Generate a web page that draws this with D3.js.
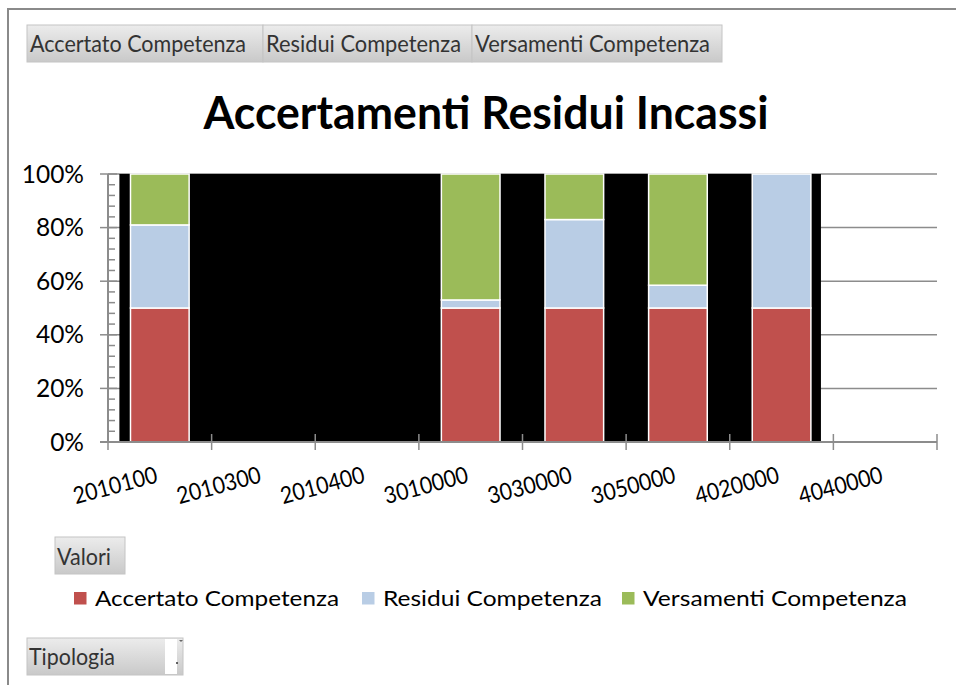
<!DOCTYPE html>
<html>
<head>
<meta charset="utf-8">
<script src="https://cdn.jsdelivr.net/npm/d3@7"></script>
<style>
  body { margin: 0; background: #fff; }
  text { font-family: Lato, "Open Sans", sans-serif; }
</style>
</head>
<body>
<svg id="chart" width="956" height="685"></svg>
<script>
const categories = ['2010100', '2010300', '2010400', '3010000', '3030000', '3050000', '4020000', '4040000'];
const seriesNames = ['Accertato Competenza', 'Residui Competenza', 'Versamenti Competenza'];
const accertato = [50, 0, 0, 50, 50, 50, 50, 0];
const residui = [31, 0, 0, 3, 33, 8.5, 50, 0];
const versamenti = [19, 0, 0, 47, 17, 41.5, 0, 0];
const yTicks = [0, 0.2, 0.4, 0.6, 0.8, 1];
const shadedRange = ['2010100', '4020000']; // fascia nera dietro le colonne
const pivotButtons = ['Accertato Competenza', 'Residui Competenza', 'Versamenti Competenza'];

const colors = ['#C0504D', '#B9CDE5', '#9BBB59'];
const gridColor = '#8c8c8c';

const svg = d3.select('#chart');

// gradiente dei pulsanti pivot
const defs = svg.append('defs');
const grad = defs.append('linearGradient').attr('id', 'btn').attr('x1', 0).attr('y1', 0).attr('x2', 0).attr('y2', 1);
grad.append('stop').attr('offset', '0%').attr('stop-color', '#ececec');
grad.append('stop').attr('offset', '100%').attr('stop-color', '#c9c9c9');

function fit (sel, w) {
  sel.attr('textLength', w).attr('lengthAdjust', 'spacingAndGlyphs');
}

// cornice
svg.append('path')
  .attr('d', 'M8,685 V9 H956')
  .attr('fill', 'none')
  .attr('stroke', '#8a8a8a')
  .attr('stroke-width', 2);

// pulsanti in alto
const btnX = [27, 263, 472, 722];
const btnTextW = [216, 195, 235];
pivotButtons.forEach((name, i) => {
  svg.append('rect')
    .attr('x', btnX[i]).attr('y', 25)
    .attr('width', btnX[i + 1] - btnX[i]).attr('height', 37)
    .attr('fill', 'url(#btn)')
    .attr('stroke', '#c4c4c4').attr('stroke-width', 1);
  svg.append('text')
    .attr('x', btnX[i] + 3).attr('y', 52)
    .attr('font-size', 22.5).attr('fill', '#333')
    .text(name)
    .call(fit, btnTextW[i]);
});

// titolo
svg.append('text')
  .attr('x', 486).attr('y', 129)
  .attr('text-anchor', 'middle')
  .attr('font-size', 45).attr('font-weight', 700)
  .text('Accertamenti Residui Incassi')
  .call(fit, 565);

const plotLeft = 108;
const plotRight = 937;
const plotTop = 174;
const plotBottom = 442;

const x = d3.scaleBand().domain(categories).range([plotLeft, plotRight]).padding(0);
const y = d3.scaleLinear().domain([0, 1]).range([plotBottom, plotTop]);
const bw = x.bandwidth();

// griglia
svg.append('g')
  .selectAll('line')
  .data(yTicks)
  .join('line')
  .attr('x1', plotLeft).attr('x2', plotRight)
  .attr('y1', d => y(d)).attr('y2', d => y(d))
  .attr('stroke', gridColor).attr('stroke-width', 1.5);

// fascia nera
const sx0 = x(shadedRange[0]) + bw * 0.11;
const sx1 = x(shadedRange[1]) + bw * 0.88;
svg.append('rect')
  .attr('x', sx0).attr('y', y(1))
  .attr('width', sx1 - sx0).attr('height', y(0) - y(1))
  .attr('fill', '#000');

// colonne in pila al 100%
const table = categories.map((c, i) => ({ cat: c, a: accertato[i], r: residui[i], v: versamenti[i] }));
const stack = d3.stack().keys(['a', 'r', 'v']).offset(d3.stackOffsetExpand);
const layers = stack(table);
const barW = bw * 0.566;

svg.append('g')
  .selectAll('g')
  .data(layers)
  .join('g')
  .attr('fill', (d, i) => colors[i])
  .selectAll('rect')
  .data(d => d.filter(p => p.data[d.key] > 0))
  .join('rect')
  .attr('x', d => x(d.data.cat) + (bw - barW) / 2)
  .attr('y', d => y(d[1]))
  .attr('width', barW)
  .attr('height', d => y(d[0]) - y(d[1]))
  .attr('stroke', '#fff').attr('stroke-width', 1.5);

// asse y
const yAxis = svg.append('g').attr('stroke', gridColor);
yAxis.append('line')
  .attr('x1', plotLeft).attr('x2', plotLeft).attr('y1', plotTop).attr('y2', plotBottom)
  .attr('stroke-width', 2);
yAxis.selectAll('line.major')
  .data(yTicks)
  .join('line').attr('class', 'major')
  .attr('x1', plotLeft - 8).attr('x2', plotLeft + 9)
  .attr('y1', d => y(d)).attr('y2', d => y(d))
  .attr('stroke-width', 1.5);
yAxis.selectAll('line.minor')
  .data(d3.range(0, 1.0001, 0.04).filter(v => Math.round(v * 100) % 20 !== 0))
  .join('line').attr('class', 'minor')
  .attr('x1', plotLeft).attr('x2', plotLeft + 7)
  .attr('y1', d => y(d)).attr('y2', d => y(d))
  .attr('stroke-width', 1.5);

svg.append('g')
  .selectAll('text')
  .data(yTicks)
  .join('text')
  .attr('x', 84).attr('y', d => y(d) + 8.5)
  .attr('text-anchor', 'end')
  .attr('font-size', 24.5)
  .text(d3.format('.0%'));

// asse x
const xAxis = svg.append('g').attr('stroke', gridColor);
xAxis.append('line')
  .attr('x1', plotLeft - 8).attr('x2', plotRight).attr('y1', plotBottom).attr('y2', plotBottom)
  .attr('stroke-width', 2);
xAxis.selectAll('line.tick')
  .data(categories.map(c => x(c)).concat([plotRight]))
  .join('line').attr('class', 'tick')
  .attr('x1', d => d).attr('x2', d => d)
  .attr('y1', plotBottom - 8).attr('y2', plotBottom + 8)
  .attr('stroke-width', 1.5);

svg.append('g')
  .selectAll('text')
  .data(categories)
  .join('text')
  .attr('transform', d => `translate(${x(d) + bw / 2 - 1},482) rotate(-15)`)
  .attr('text-anchor', 'end')
  .attr('font-size', 23.5)
  .text(d => d)
  .call(fit, 86);

// pulsante Valori
svg.append('rect')
  .attr('x', 55).attr('y', 537).attr('width', 70).attr('height', 37)
  .attr('fill', 'url(#btn)').attr('stroke', '#c4c4c4');
svg.append('text')
  .attr('x', 57).attr('y', 565)
  .attr('font-size', 22.5).attr('fill', '#333')
  .text('Valori')
  .call(fit, 54);

// legenda
const legX = [74, 362, 622];
const legW = [244, 219, 264];
seriesNames.forEach((name, i) => {
  svg.append('rect')
    .attr('x', legX[i]).attr('y', 592)
    .attr('width', 12.5).attr('height', 12.5)
    .attr('fill', colors[i]);
  svg.append('text')
    .attr('x', legX[i] + 21).attr('y', 606)
    .attr('font-size', 22)
    .text(name)
    .call(fit, legW[i]);
});

// pulsante Tipologia
svg.append('rect')
  .attr('x', 27).attr('y', 638).attr('width', 156).attr('height', 37)
  .attr('fill', 'url(#btn)').attr('stroke', '#c4c4c4');
svg.append('rect')
  .attr('x', 165).attr('y', 639).attr('width', 12).attr('height', 35)
  .attr('fill', '#fff');
svg.append('circle').attr('cx', 177).attr('cy', 663).attr('r', 1).attr('fill', '#333');
svg.append('path').attr('d', 'M179,640 h4 l-2,2 z').attr('fill', '#666');
svg.append('text')
  .attr('x', 29).attr('y', 665)
  .attr('font-size', 22.5).attr('fill', '#333')
  .text('Tipologia')
  .call(fit, 86);
</script>
</body>
</html>
